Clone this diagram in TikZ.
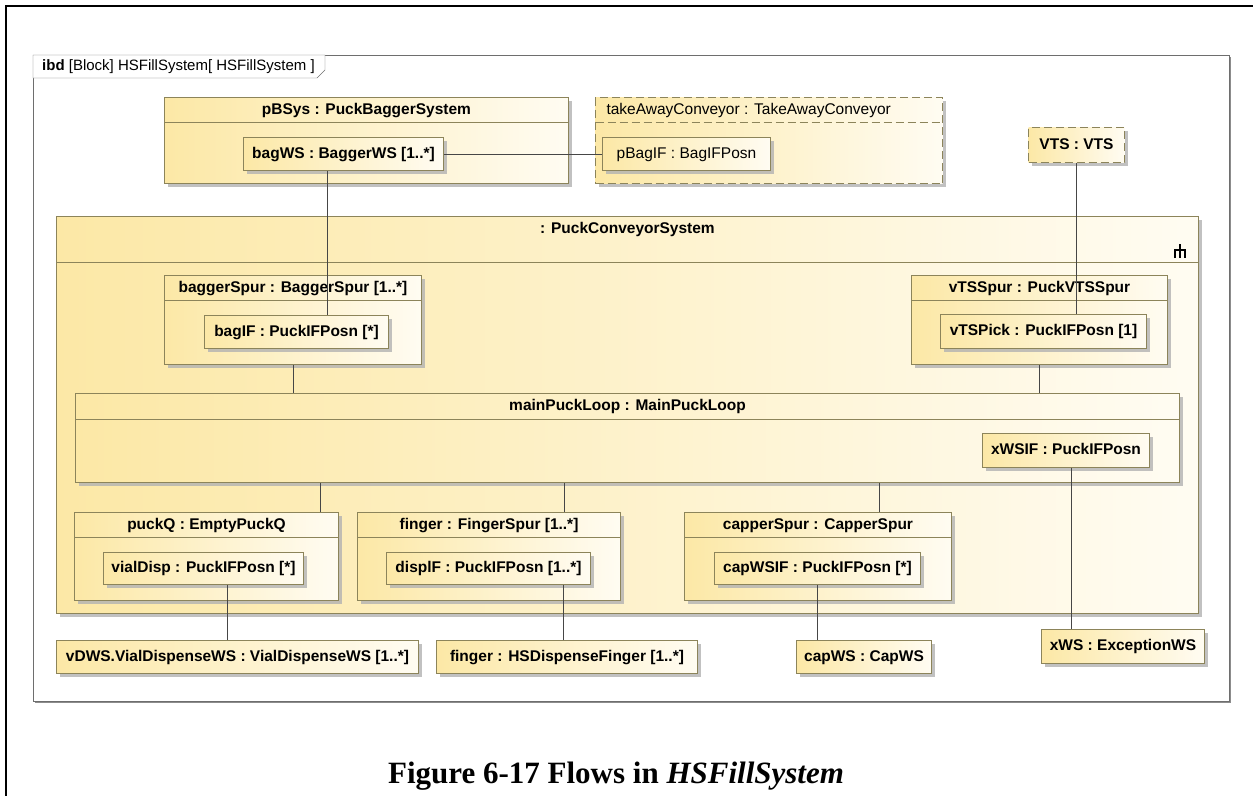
\documentclass[tikz,border=0pt]{standalone}
\usepackage{fontspec}
\setmainfont{Liberation Sans}
\newfontfamily\captionserif{Liberation Serif}
\usepackage{tikz}
\usetikzlibrary{shadows}
\definecolor{ibdYellow}{RGB}{252,232,166}
\definecolor{ibdLight}{RGB}{255,252,242}
\definecolor{ibdLine}{RGB}{140,132,90}
\definecolor{ibdGray}{RGB}{110,110,110}
\definecolor{ibdLink}{RGB}{70,70,70}
\newcommand{\ibdfont}{\fontsize{15.5}{18}\selectfont}

\begin{document}
\begin{tikzpicture}[x=1pt, y=-1pt,
  box/.style={rectangle, draw=ibdLine, line width=1pt, left color=ibdYellow,
              right color=ibdLight, inner sep=0pt, anchor=north west,
              drop shadow={shadow xshift=3pt, shadow yshift=-3pt,
                           fill=black!30, opacity=0.8}},
  size/.style 2 args={minimum width=#1pt, minimum height=#2pt},
  head/.style={path picture={\draw[ibdLine, line width=1pt]
                ([yshift=-#1pt]path picture bounding box.north west) --
                ([yshift=-#1pt]path picture bounding box.north east);}},
  ttl/.style={anchor=north, inner ysep=5pt, text height=12pt, text depth=4pt,
              font=\ibdfont\bfseries},
  part/.style={box, text height=12pt, text depth=4pt, font=\ibdfont\bfseries},
  ext/.style={dash pattern=on 8pt off 4pt},
  link/.style={draw=ibdLink, line width=1pt},
]
  \useasboundingbox (0,0) rectangle (1253,796);
  \draw[line width=1.5pt] (1253,6) -- (6,6) -- (6,796);

  % diagram frame
  \node[draw=ibdGray, fill=white, inner sep=0pt, anchor=north west, size={1196}{646},
        drop shadow={shadow xshift=2pt, shadow yshift=-2pt, fill=black!45, opacity=1}]
        (frame) at (33,55) {};
  \draw[ibdGray, fill=white] (frame.north west) -- ++(292,0) -- ++(0,15) -- ++(-8,8)
        -- ++(-284,0) -- cycle;
  \node[anchor=west, inner sep=0pt, font=\fontsize{15}{18}\selectfont] (tab) at (42,67)
        {\textbf{ibd} [Block] HSFillSystem[ HSFillSystem ]};

  % top row
  \node[box, size={404}{86}, head=25, label={[ttl]north:{pBSys : PuckBaggerSystem}}]
        (pbsys) at (164,97) {};
  \node[part, size={200}{33}] (bagws) at (243,137) {bagWS : BaggerWS [1..*]};

  \node[box, ext, size={347}{86}, head=25,
        label={[ttl, anchor=north west, xshift=8pt, font=\ibdfont]north west:{takeAwayConveyor : TakeAwayConveyor}}]
        (takeaway) at (595,97) {};
  \node[part, size={168}{33}, font=\ibdfont] (pbagif) at (602,137) {pBagIF : BagIFPosn};

  \node[part, ext, size={96}{35}] (vts) at (1028,127) {VTS : VTS};

  % conveyor system
  \node[box, size={1142}{397}, head=46, label={[ttl]north:{: PuckConveyorSystem}}]
        (pcs) at (56,216) {};
  \draw[line width=1.4pt] (1180,244) -- (1180,250) (1175,258) -- (1175,250) -- (1185,250)
        -- (1185,258) (1180,250) -- (1180,258);

  \node[box, size={257}{89}, head=25, label={[ttl]north:{baggerSpur : BaggerSpur [1..*]}}]
        (baggerspur) at (164,275) {};
  \node[part, size={184}{33}] (bagif) at (204,315) {bagIF : PuckIFPosn [*]};

  \node[box, size={256}{89}, head=25, label={[ttl]north:{vTSSpur : PuckVTSSpur}}]
        (vtsspur) at (911,275) {};
  \node[part, size={206}{34}] (vtspick) at (940,314) {vTSPick : PuckIFPosn [1]};

  \node[box, size={1104}{89}, head=26, label={[ttl]north:{mainPuckLoop : MainPuckLoop}}]
        (mainloop) at (75,393) {};
  \node[part, size={167}{34}] (xwsif) at (982,433) {xWSIF : PuckIFPosn};

  \node[box, size={264}{88}, head=25, label={[ttl]north:{puckQ : EmptyPuckQ}}]
        (puckq) at (74,512) {};
  \node[part, size={200}{32}] (vialdisp) at (103,552) {vialDisp : PuckIFPosn [*]};

  \node[box, size={263}{88}, head=25, label={[ttl]north:{finger : FingerSpur [1..*]}}]
        (fingerspur) at (357,512) {};
  \node[part, size={204}{32}] (displf) at (386,552) {displF : PuckIFPosn [1..*]};

  \node[box, size={267}{88}, head=25, label={[ttl]north:{capperSpur : CapperSpur}}]
        (capperspur) at (684,512) {};
  \node[part, size={206}{32}] (capwsif) at (714,552) {capWSIF : PuckIFPosn [*]};

  % external parts
  \node[part, size={362}{33}] (vdws) at (56,640) {vDWS.VialDispenseWS : VialDispenseWS [1..*]};
  \node[part, size={261}{33}] (fingerhs) at (436,640) {finger : HSDispenseFinger [1..*]};
  \node[part, size={135}{33}] (capws) at (796,640) {capWS : CapWS};
  \node[part, size={163}{34}] (xws) at (1041,629) {xWS : ExceptionWS};

  % connectors
  \draw[link] (bagws) -- (pbagif);
  \coordinate (bagdrop) at ([xshift=-16pt]bagws.south);
  \draw[link] (bagdrop) -- (bagdrop |- bagif.north);
  \draw[link] (vts.south) -- (vts.south |- vtspick.north);
  \draw[link] (baggerspur.south) -- (baggerspur.south |- mainloop.north);
  \draw[link] (vtsspur.south) -- (vtsspur.south |- mainloop.north);
  \coordinate (qtop) at ([xshift=-19pt]puckq.north east);
  \draw[link] (mainloop.south -| qtop) -- (qtop);
  \coordinate (ftop) at ([xshift=-57pt]fingerspur.north east);
  \draw[link] (mainloop.south -| ftop) -- (ftop);
  \coordinate (ctop) at ([xshift=-73pt]capperspur.north east);
  \draw[link] (mainloop.south -| ctop) -- (ctop);
  \coordinate (vdrop) at ([xshift=24pt]vialdisp.south);
  \draw[link] (vdrop) -- (vdrop |- vdws.north);
  \coordinate (fdrop) at ([xshift=75pt]displf.south);
  \draw[link] (fdrop) -- (fdrop |- fingerhs.north);
  \draw[link] (capwsif.south) -- (capwsif.south |- capws.north);
  \coordinate (xdrop) at ([xshift=5pt]xwsif.south);
  \draw[link] (xdrop) -- (xdrop |- xws.north);

  \node[font=\captionserif\fontsize{31}{37}\selectfont\bfseries, anchor=base] (caption)
        at (616,783) {Figure 6-17 Flows in \textit{HSFillSystem}};
\end{tikzpicture}
\end{document}
